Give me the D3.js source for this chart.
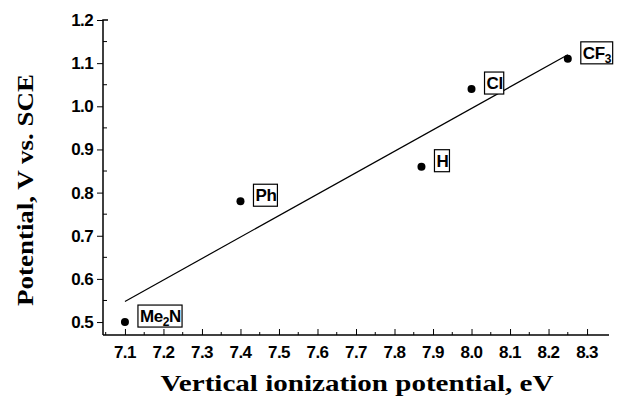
<!DOCTYPE html>
<html>
<head>
<meta charset="utf-8">
<script src="https://cdn.jsdelivr.net/npm/d3@7"></script>
<style>
  body { margin: 0; background: #fff; }
  svg { display: block; }
</style>
</head>
<body>
<div id="chart"></div>
<script>
  // substituents and their values
  const labels = ['Me2N', 'Ph', 'H', 'Cl', 'CF3'];
  const ionization = [7.1, 7.4, 7.87, 8.0, 8.25];
  const potential = [0.50, 0.78, 0.86, 1.04, 1.11];

  const xTicks = [7.1, 7.2, 7.3, 7.4, 7.5, 7.6, 7.7, 7.8, 7.9, 8.0, 8.1, 8.2, 8.3];
  const yTicks = [0.5, 0.6, 0.7, 0.8, 0.9, 1.0, 1.1, 1.2];

  (() => {
    const W = 621, H = 401;
    const mLeft = 103, mRight = 609, mTop = 20, mBottom = 335;

    const svg = d3.select('#chart').append('svg')
      .attr('width', W)
      .attr('height', H);

    const x = d3.scaleLinear().domain([7.043, 8.357]).range([mLeft, mRight]);
    const y = d3.scaleLinear().domain([0.47, 1.2]).range([mBottom, mTop]);

    const tickFont = '"Liberation Sans", Arial, sans-serif';

    // x axis: major ticks inside, minor ticks in between
    const xMinor = xTicks.slice(0, -1).map(v => v + 0.05).concat([7.05]);
    const xAxis = d3.axisTop(x).tickValues(xTicks).tickSize(6).tickFormat('');
    const gx = svg.append('g').attr('transform', `translate(0,${mBottom})`).call(xAxis);
    gx.select('.domain').attr('d', `M${mLeft},0H${mRight}`).attr('stroke-width', 1.5);
    gx.append('g').selectAll('line').data(xMinor).join('line')
      .attr('x1', d => x(d)).attr('x2', d => x(d))
      .attr('y1', 0).attr('y2', -3)
      .attr('stroke', '#000');
    svg.append('g').selectAll('text').data(xTicks).join('text')
      .attr('x', d => x(d))
      .attr('y', 358)
      .attr('text-anchor', 'middle')
      .attr('font-family', tickFont)
      .attr('font-weight', 'bold')
      .attr('font-size', 17)
      .attr('letter-spacing', -0.6)
      .text(d => d.toFixed(1));

    // y axis: major ticks outside, minor ticks inside
    const yMinor = yTicks.slice(0, -1).map(v => v + 0.05);
    const yAxis = d3.axisLeft(y).tickValues(yTicks).tickSize(6).tickFormat('');
    const gy = svg.append('g').attr('transform', `translate(${mLeft},0)`).call(yAxis);
    gy.select('.domain').attr('d', `M0,${mBottom}V${mTop}h5`).attr('stroke-width', 1.5).attr('fill', 'none');
    gy.append('g').selectAll('line').data(yMinor).join('line')
      .attr('x1', 0).attr('x2', 4)
      .attr('y1', d => y(d)).attr('y2', d => y(d))
      .attr('stroke', '#000');
    svg.append('g').selectAll('text').data(yTicks).join('text')
      .attr('x', 93)
      .attr('y', d => y(d) + 6)
      .attr('text-anchor', 'end')
      .attr('font-family', tickFont)
      .attr('font-weight', 'bold')
      .attr('font-size', 17)
      .attr('letter-spacing', -0.6)
      .text(d => d.toFixed(1));

    // least squares fit line through the points
    const mx = d3.mean(ionization), my = d3.mean(potential);
    const slope = d3.sum(ionization, (v, i) => (v - mx) * (potential[i] - my)) /
      d3.sum(ionization, v => (v - mx) * (v - mx));
    const fit = v => my + slope * (v - mx);
    const x0 = d3.min(ionization), x1 = d3.max(ionization);
    svg.append('line')
      .attr('x1', x(x0)).attr('y1', y(fit(x0)))
      .attr('x2', x(x1)).attr('y2', y(fit(x1)))
      .attr('stroke', '#000')
      .attr('stroke-width', 1.2);

    const pts = labels.map((l, i) => ({ label: l, xv: ionization[i], yv: potential[i] }));

    svg.append('g').selectAll('circle').data(pts).join('circle')
      .attr('cx', d => x(d.xv))
      .attr('cy', d => y(d.yv))
      .attr('r', 4)
      .attr('fill', '#000');

    // boxed labels, with subscripts for digits
    const lab = svg.append('g').selectAll('g').data(pts).join('g')
      .attr('transform', d => `translate(${x(d.xv) + 15},${y(d.yv) - 6})`);

    lab.each(function (d) {
      const g = d3.select(this);
      const t = g.append('text')
        .attr('y', 6)
        .attr('font-family', tickFont)
        .attr('font-weight', 'bold')
        .attr('font-size', 17)
        .attr('letter-spacing', -0.4);
      let shift = 0;
      d.label.split(/(\d)/).filter(s => s).forEach(s => {
        if (/\d/.test(s)) {
          t.append('tspan').attr('dy', 4).attr('font-size', 12).text(s);
          shift = -4;
        } else {
          t.append('tspan').attr('dy', shift).text(s);
          shift = 0;
        }
      });
      const bb = t.node().getBBox();
      g.insert('rect', 'text')
        .attr('x', bb.x - 2)
        .attr('y', -11)
        .attr('width', bb.width + 3)
        .attr('height', 22)
        .attr('fill', '#fff')
        .attr('stroke', '#000')
        .attr('stroke-width', 1.2);
    });

    // axis titles
    const titleFont = '"Liberation Serif", "Times New Roman", serif';
    svg.append('text')
      .attr('x', 357)
      .attr('y', 391)
      .attr('text-anchor', 'middle')
      .attr('textLength', 393)
      .attr('lengthAdjust', 'spacingAndGlyphs')
      .attr('font-family', titleFont)
      .attr('font-weight', 'bold')
      .attr('font-size', 24)
      .text('Vertical ionization potential, eV');

    svg.append('text')
      .attr('transform', 'translate(33,190) rotate(-90)')
      .attr('text-anchor', 'middle')
      .attr('textLength', 232)
      .attr('lengthAdjust', 'spacingAndGlyphs')
      .attr('font-family', titleFont)
      .attr('font-weight', 'bold')
      .attr('font-size', 24)
      .text('Potential, V vs. SCE');
  })();
</script>
</body>
</html>
